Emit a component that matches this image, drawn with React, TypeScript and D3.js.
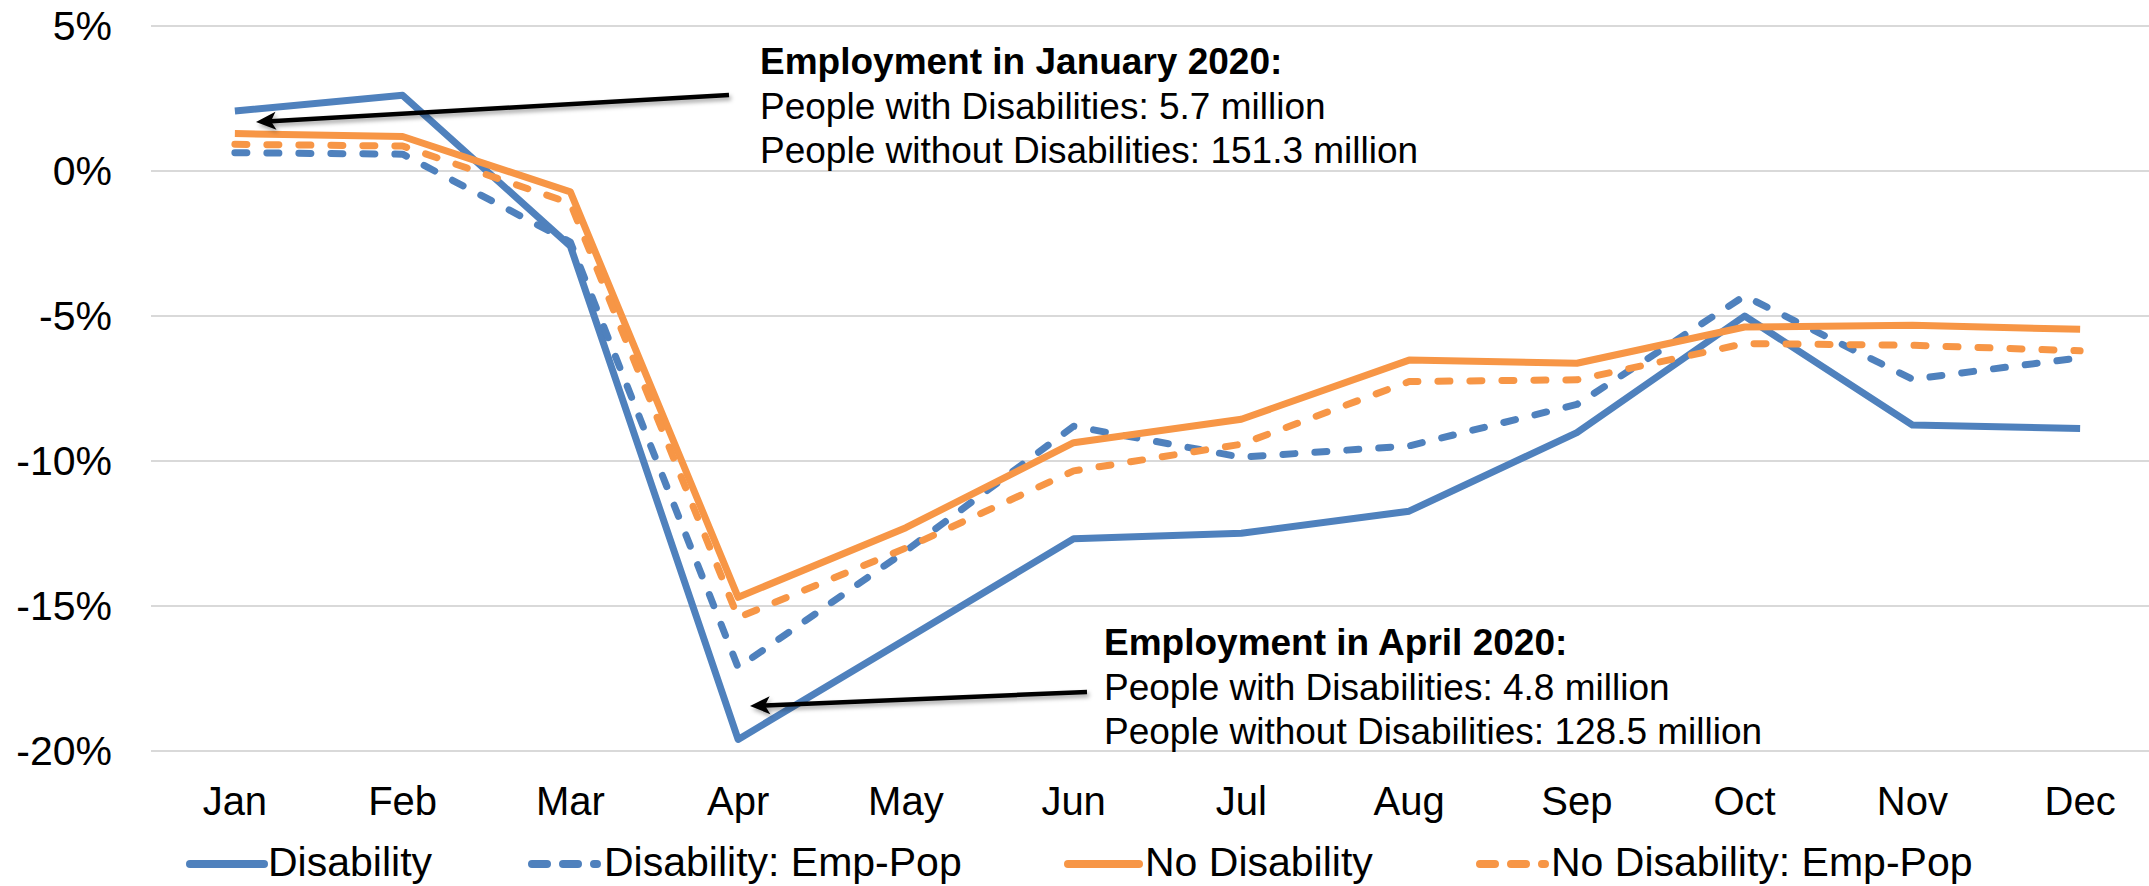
import React, {useEffect, useRef} from 'react';
import * as d3 from 'd3';

const months = ["Jan", "Feb", "Mar", "Apr", "May", "Jun", "Jul", "Aug", "Sep", "Oct", "Nov", "Dec"];
const yTicks = [5, 0, -5, -10, -15, -20];

const disability = [2.07, 2.61, -2.59, -19.6, -16.15, -12.68, -12.49, -11.73, -9.02, -5.0, -8.76, -8.88];
const disabilityEmpPop = [0.63, 0.58, -2.45, -17.12, -13.1, -8.8, -9.87, -9.48, -8.05, -4.31, -7.18, -6.44];
const noDisability = [1.29, 1.19, -0.72, -14.7, -12.3, -9.37, -8.56, -6.52, -6.63, -5.38, -5.32, -5.46];
const noDisabilityEmpPop = [0.92, 0.86, -1.11, -15.4, -13.0, -10.34, -9.42, -7.26, -7.2, -5.95, -6.01, -6.2];

const seriesNames = ["Disability", "Disability: Emp-Pop", "No Disability", "No Disability: Emp-Pop"];

const janNotes = ["Employment in January 2020:", "People with Disabilities: 5.7 million", "People without Disabilities: 151.3 million"];
const aprNotes = ["Employment in April 2020:", "People with Disabilities: 4.8 million", "People without Disabilities: 128.5 million"];

const BLUE = "#4f81bd";
const ORANGE = "#f79646";
const FONT = "'Liberation Sans', Arial, sans-serif";

const App = () => {
    const ref = useRef<SVGSVGElement>(null);

    useEffect(() => {
        const svg = d3.select(ref.current);
        svg.selectAll("*").remove();

        const x = d3.scaleBand<string>().domain(months).range([151, 2164]);
        const y = d3.scaleLinear().domain([-20, 5]).range([751, 26]);
        const cx = (m: string) => (x(m) ?? 0) + x.bandwidth() / 2;

        // shadow + arrow head
        const defs = svg.append("defs");
        const f = defs.append("filter").attr("id", "shadow")
            .attr("x", "-10%").attr("y", "-200%").attr("width", "120%").attr("height", "500%");
        f.append("feDropShadow").attr("dx", 2).attr("dy", 3).attr("stdDeviation", 2)
            .attr("flood-color", "#000").attr("flood-opacity", 0.35);

        // gridlines
        svg.append("g")
            .selectAll("line")
            .data(yTicks)
            .join("line")
            .attr("x1", 151).attr("x2", 2164)
            .attr("y1", d => y(d)).attr("y2", d => y(d))
            .attr("stroke", "#d9d9d9").attr("stroke-width", 2);

        // y tick labels
        svg.append("g")
            .style("font-family", FONT)
            .style("font-size", "41px")
            .attr("text-anchor", "end")
            .selectAll("text")
            .data(yTicks)
            .join("text")
            .attr("x", 112)
            .attr("y", d => y(d) + 14)
            .text(d => `${d}%`);

        // month labels
        svg.append("g")
            .style("font-family", FONT)
            .style("font-size", "40px")
            .attr("text-anchor", "middle")
            .selectAll("text")
            .data(months)
            .join("text")
            .attr("x", d => cx(d))
            .attr("y", 815)
            .text(d => d);

        const series = [
            {name: seriesNames[0], values: disability, color: BLUE, dash: null},
            {name: seriesNames[1], values: disabilityEmpPop, color: BLUE, dash: "12 20"},
            {name: seriesNames[2], values: noDisability, color: ORANGE, dash: null},
            {name: seriesNames[3], values: noDisabilityEmpPop, color: ORANGE, dash: "12 20"},
        ];

        const line = d3.line<number>()
            .x((_, i) => cx(months[i]))
            .y(d => y(d));

        svg.append("g")
            .selectAll("path")
            .data(series)
            .join("path")
            .attr("d", d => line(d.values))
            .attr("fill", "none")
            .attr("stroke", d => d.color)
            .attr("stroke-width", 7)
            .attr("stroke-linejoin", "round")
            .attr("stroke-linecap", d => d.dash ? "round" : "butt")
            .attr("stroke-dasharray", d => d.dash);

        // arrows: shaft + head drawn as a path along the direction
        const arrows = [
            {from: [729, 95], to: [256, 122]},
            {from: [1087, 692], to: [750, 706]},
        ];
        const ag = svg.append("g").attr("filter", "url(#shadow)");
        arrows.forEach(a => {
            const [x1, y1] = a.from;
            const [x2, y2] = a.to;
            const len = Math.hypot(x2 - x1, y2 - y1);
            const ux = (x2 - x1) / len, uy = (y2 - y1) / len;
            const px = -uy, py = ux;
            const hl = 20, hw = 9, notch = 5;
            ag.append("line")
                .attr("x1", x1).attr("y1", y1)
                .attr("x2", x2 - ux * (hl - notch)).attr("y2", y2 - uy * (hl - notch))
                .attr("stroke", "#000").attr("stroke-width", 4.5);
            const bx = x2 - ux * hl, by = y2 - uy * hl;
            const nx = x2 - ux * (hl - notch), ny = y2 - uy * (hl - notch);
            ag.append("path")
                .attr("d", `M${x2},${y2} L${bx + px * hw},${by + py * hw} L${nx},${ny} L${bx - px * hw},${by - py * hw} Z`)
                .attr("fill", "#000");
        });

        // annotations
        const notes = [
            {lines: janNotes, x: 760, y: 74},
            {lines: aprNotes, x: 1104, y: 655},
        ];
        notes.forEach(n => {
            svg.append("g")
                .style("font-family", FONT)
                .style("font-size", "37px")
                .selectAll("text")
                .data(n.lines)
                .join("text")
                .attr("x", n.x)
                .attr("y", (_, i) => n.y + i * 44.5)
                .attr("font-weight", (_, i) => i === 0 ? "bold" : "normal")
                .text(d => d);
        });

        // legend
        const legendX = [[190, 264, 268], [532, 597, 604], [1068, 1139, 1145], [1480, 1545, 1551]];
        const lg = svg.append("g")
            .selectAll("g")
            .data(series)
            .join("g");
        lg.append("line")
            .attr("x1", (_, i) => legendX[i][0])
            .attr("x2", (_, i) => legendX[i][1])
            .attr("y1", 864).attr("y2", 864)
            .attr("stroke", d => d.color)
            .attr("stroke-width", 8)
            .attr("stroke-linecap", "round")
            .attr("stroke-dasharray", d => d.dash ? "15 16" : null);
        lg.append("text")
            .attr("x", (_, i) => legendX[i][2])
            .attr("y", 876)
            .style("font-family", FONT)
            .style("font-size", "41px")
            .text(d => d.name);
    }, []);

    return (
        <svg ref={ref} width={2149} height={886}
             style={{position: "absolute", left: 0, top: 0, background: "#fff"}}/>
    );
};

export default App;
